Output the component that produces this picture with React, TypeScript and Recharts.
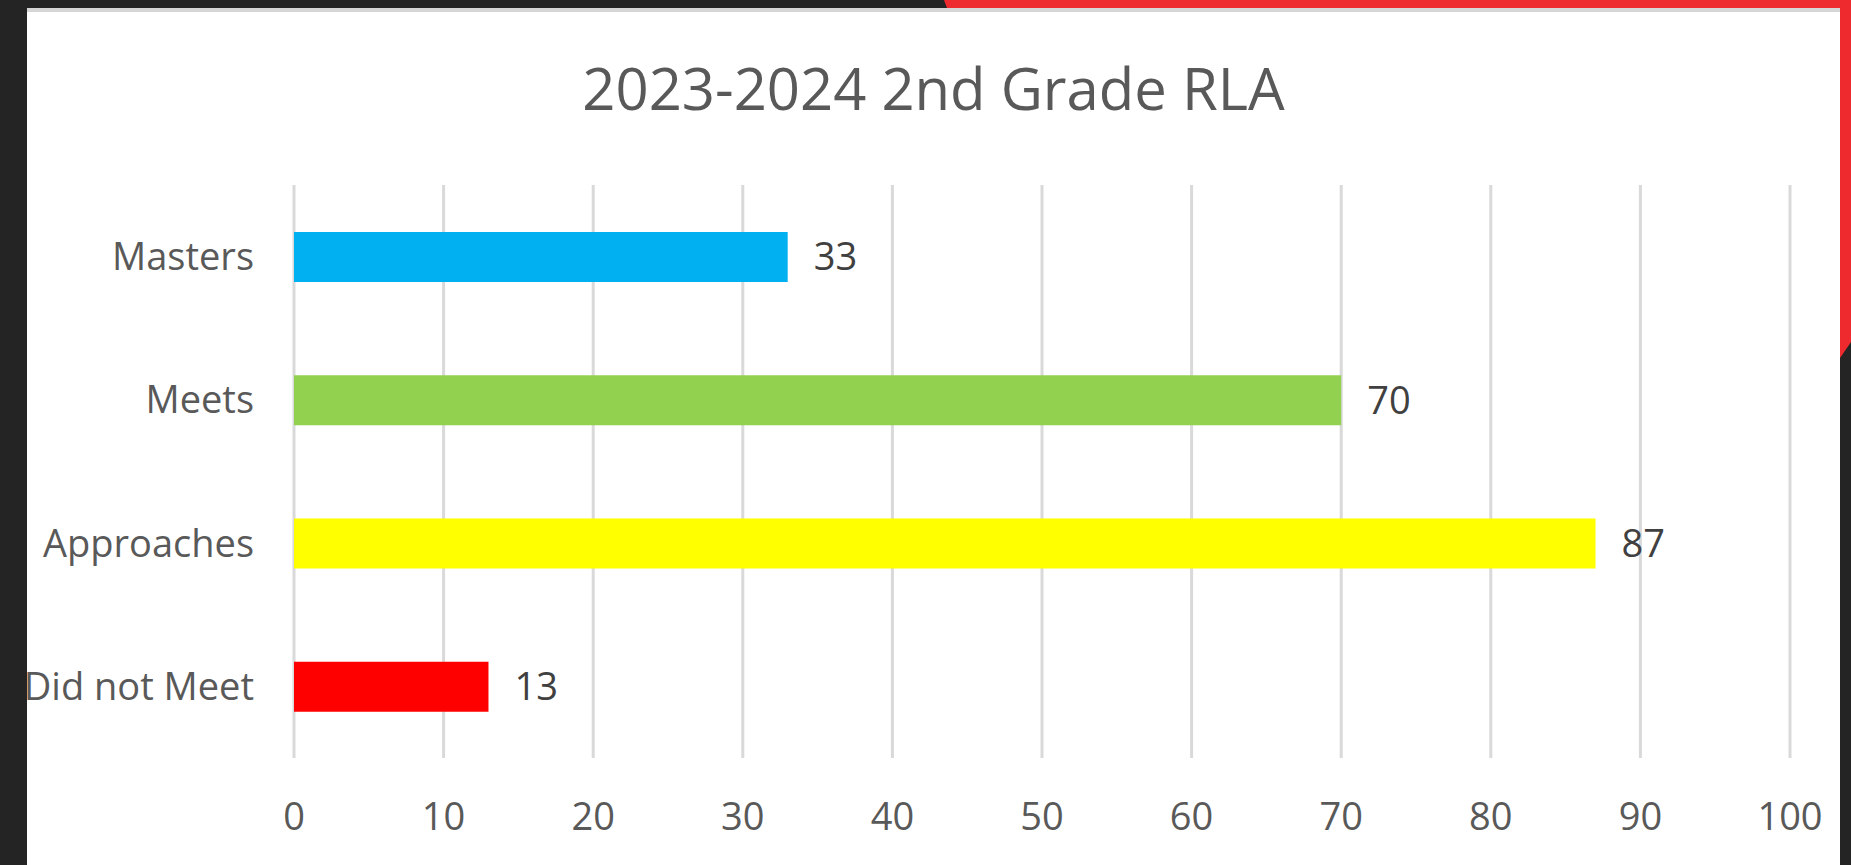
import React from 'react';
import { BarChart, Bar, XAxis, YAxis, CartesianGrid, Cell, LabelList } from 'recharts';

const categories = ['Masters', 'Meets', 'Approaches', 'Did not Meet'];
const values = [33, 70, 87, 13];
const barColors = ['#00b0f0', '#92d050', '#ffff00', '#ff0000'];
const xTicks = [0, 10, 20, 30, 40, 50, 60, 70, 80, 90, 100];

const data = categories.map((name, i) => ({ name, value: values[i] }));

const font = '"Open Sans", sans-serif';

export default function App() {
  return (
    <div style={{ position: 'fixed', left: 0, top: 0, width: 1851, height: 865, background: '#242424', overflow: 'hidden' }}>
      {/* red slide accent top right */}
      <svg width={1851} height={865} style={{ position: 'absolute', left: 0, top: 0 }}>
        <polygon points="944,0 1851,0 1851,342 1840,358 1840,8 947,8" fill="#ee2a2e" />
      </svg>
      {/* white chart panel */}
      <div
        style={{
          position: 'absolute',
          left: 27,
          top: 8,
          width: 1813,
          height: 857,
          background: '#ffffff',
          borderTop: '4px solid #d6d6d6',
          boxSizing: 'border-box',
        }}
      />
      <div
        style={{
          position: 'absolute',
          left: 27,
          top: 59,
          width: 1813,
          textAlign: 'center',
          fontFamily: font,
          fontSize: 58,
          lineHeight: 1,
          color: '#595959',
        }}
      >
        2023-2024 2nd Grade RLA
      </div>
      <div style={{ position: 'absolute', left: 0, top: 0 }}>
        <BarChart
          width={1851}
          height={865}
          data={data}
          layout="vertical"
          margin={{ top: 185, right: 61, bottom: 47, left: 34 }}
          barSize={50}
        >
          <CartesianGrid horizontal={false} stroke="#d9d9d9" strokeWidth={3} />
          <XAxis
            type="number"
            domain={[0, 100]}
            ticks={xTicks}
            axisLine={false}
            tickLine={false}
            tickSize={0}
            tickMargin={45}
            height={60}
            tick={{ fill: '#595959', fontSize: 38, fontFamily: font }}
          />
          <YAxis
            type="category"
            dataKey="name"
            axisLine={false}
            tickLine={false}
            tickSize={0}
            tickMargin={40}
            width={260}
            tick={{ fill: '#595959', fontSize: 38, fontFamily: font }}
          />
          <Bar dataKey="value" isAnimationActive={false}>
            {data.map((d, i) => (
              <Cell key={d.name} fill={barColors[i]} />
            ))}
            <LabelList dataKey="value" position="right" offset={26} fill="#404040" fontSize={38} fontFamily={font} />
          </Bar>
        </BarChart>
      </div>
    </div>
  );
}
